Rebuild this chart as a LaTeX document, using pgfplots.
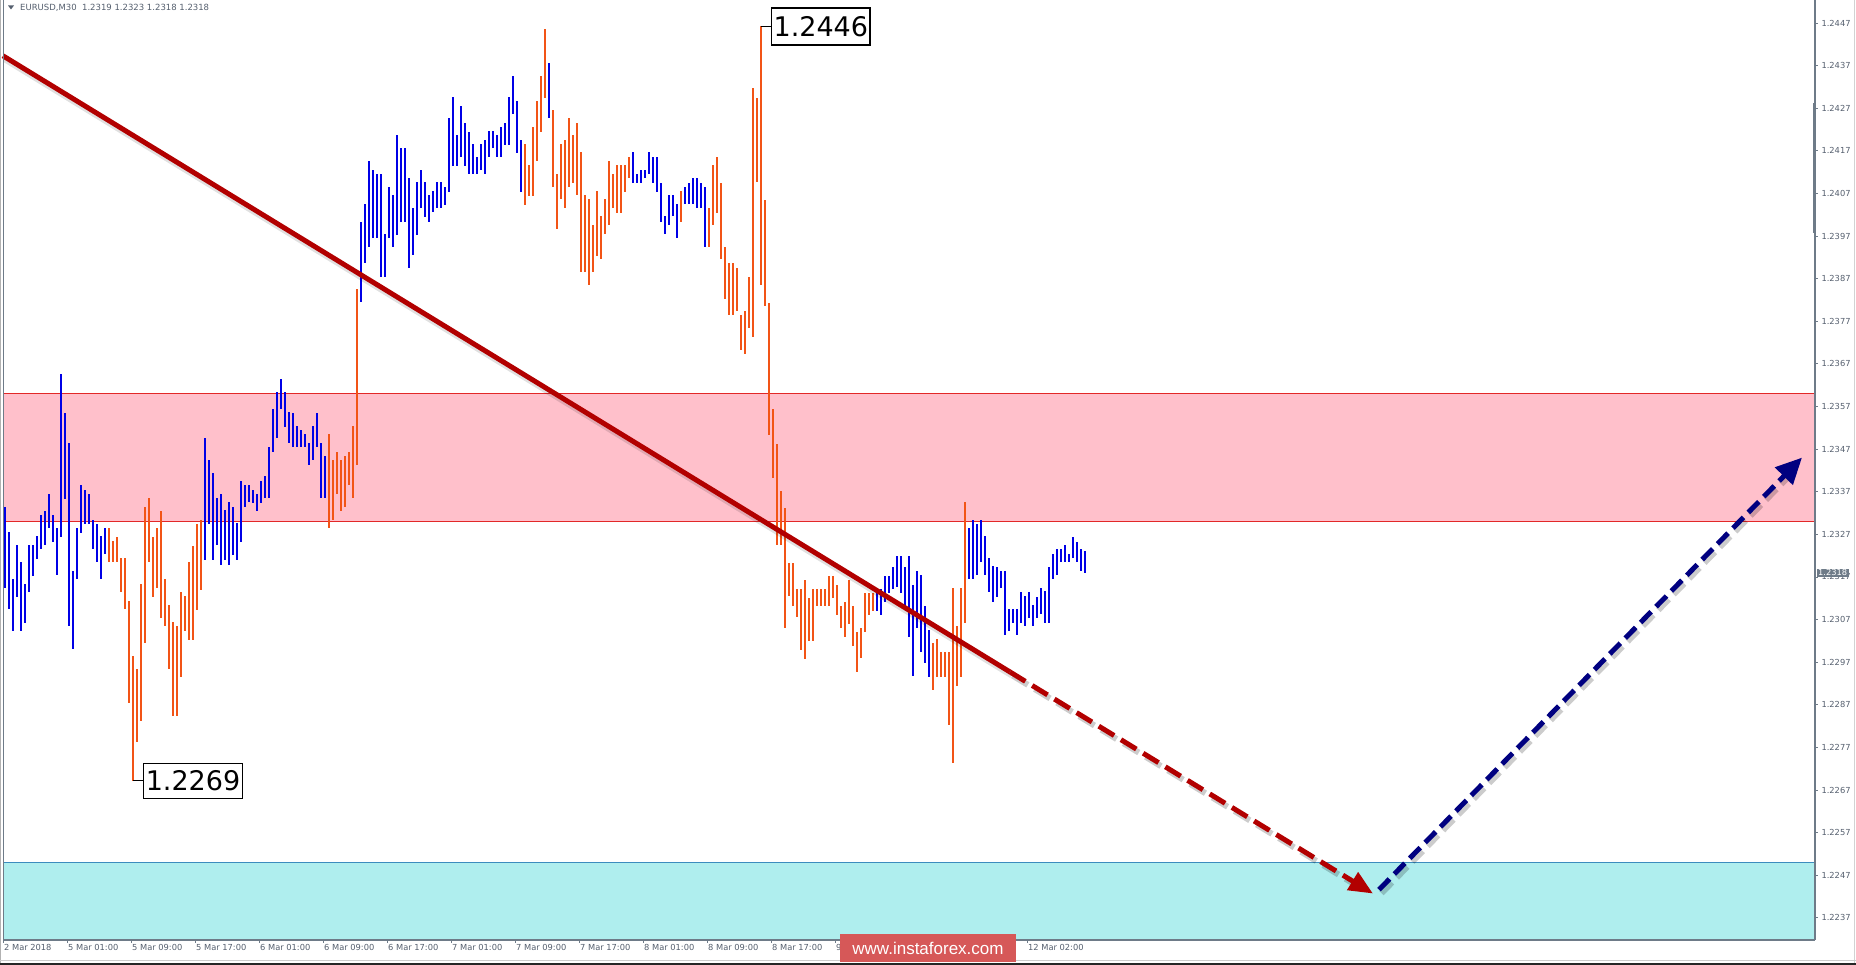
\documentclass[border=0pt]{standalone}
\usepackage{pgfplots}
\pgfplotsset{compat=1.18}
\usepackage{pgfplotstable}
\usepackage{fontspec}
\setmainfont{DejaVu Sans}
\newfontfamily\wmfont{Liberation Sans}
\usetikzlibrary{arrows.meta}

\definecolor{barblue}{RGB}{0,0,230}
\definecolor{barorange}{RGB}{242,84,22}
\definecolor{zonepink}{RGB}{255,192,203}
\definecolor{zonered}{RGB}{226,40,40}
\definecolor{zonecyan}{RGB}{175,238,238}
\definecolor{zoneline}{RGB}{60,140,190}
\definecolor{trendred}{RGB}{178,0,0}
\definecolor{navyarrow}{RGB}{0,0,128}
\definecolor{axisgray}{RGB}{110,123,136}
\definecolor{labelgray}{RGB}{85,95,110}
\definecolor{markred}{RGB}{214,88,88}

% EURUSD M30 bars: index, high, low, up (1 blue / 0 orange)
\pgfplotstableread{
x hi lo up
1 1.23335 1.23144 1
2 1.23275 1.23095 1
3 1.23166 1.23043 1
4 1.23245 1.23124 1
5 1.23206 1.23043 1
6 1.23154 1.23063 1
7 1.23245 1.23134 1
8 1.23245 1.23173 1
9 1.23265 1.23213 1
10 1.23315 1.23235 1
11 1.23325 1.23244 1
12 1.23365 1.23284 1
13 1.23316 1.23253 1
14 1.23285 1.23174 1
15 1.23647 1.23263 1
16 1.23554 1.23354 1
17 1.23484 1.23054 1
18 1.23185 1.23002 1
19 1.23285 1.23165 1
20 1.23385 1.23274 1
21 1.23374 1.23294 1
22 1.23365 1.23294 1
23 1.23303 1.23235 1
24 1.23294 1.23205 1
25 1.23265 1.23165 1
26 1.23285 1.23223 1
27 1.23285 1.23205 0
28 1.23255 1.23205 0
29 1.23264 1.23205 0
30 1.23214 1.23134 0
31 1.23214 1.23095 0
32 1.23114 1.22874 0
33 1.22985 1.22692 0
34 1.22954 1.22782 0
35 1.23154 1.22833 0
36 1.23335 1.23015 0
37 1.23356 1.23205 0
38 1.23264 1.23124 0
39 1.23285 1.23144 0
40 1.23325 1.23074 0
41 1.23165 1.23054 0
42 1.23105 1.22954 0
43 1.23065 1.22844 0
44 1.23055 1.22844 0
45 1.23134 1.22935 0
46 1.23126 1.23043 0
47 1.23206 1.23023 0
48 1.23243 1.23023 0
49 1.23295 1.23093 0
50 1.23304 1.23140 0
51 1.23497 1.23210 1
52 1.23445 1.23295 1
53 1.23414 1.23210 1
54 1.23355 1.23245 1
55 1.23365 1.23199 1
56 1.23326 1.23210 1
57 1.23346 1.23199 1
58 1.23335 1.23222 1
59 1.23296 1.23210 1
60 1.23396 1.23253 1
61 1.23386 1.23334 1
62 1.23386 1.23346 1
63 1.23374 1.23343 1
64 1.23365 1.23324 1
65 1.23396 1.23343 1
66 1.23406 1.23355 1
67 1.23476 1.23355 1
68 1.23564 1.23464 1
69 1.23604 1.23496 1
70 1.23634 1.23564 1
71 1.23604 1.23523 1
72 1.23558 1.23484 1
73 1.23554 1.23475 1
74 1.23525 1.23475 1
75 1.23515 1.23475 1
76 1.23505 1.23475 1
77 1.23485 1.23433 1
78 1.23525 1.23445 1
79 1.23554 1.23476 1
80 1.23484 1.23355 1
81 1.23453 1.23355 1
82 1.23505 1.23285 0
83 1.23445 1.23304 0
84 1.23464 1.23365 0
85 1.23445 1.23324 0
86 1.23454 1.23334 0
87 1.23464 1.23385 0
88 1.23525 1.23355 0
89 1.23846 1.23433 0
90 1.24004 1.23815 1
91 1.24045 1.23906 1
92 1.24147 1.23945 1
93 1.24125 1.23965 1
94 1.24116 1.23965 1
95 1.24115 1.23875 1
96 1.23975 1.23875 1
97 1.24085 1.23965 1
98 1.24067 1.23945 1
99 1.24207 1.23973 1
100 1.24176 1.24004 1
101 1.24176 1.24004 1
102 1.24106 1.23895 1
103 1.24037 1.23926 1
104 1.24098 1.23973 1
105 1.24125 1.24035 1
106 1.24098 1.24014 1
107 1.24067 1.24004 1
108 1.24076 1.24027 1
109 1.24098 1.24035 1
110 1.24098 1.24035 1
111 1.24085 1.24043 1
112 1.24248 1.24074 1
113 1.24297 1.24135 1
114 1.24207 1.24135 1
115 1.24276 1.24155 1
116 1.24235 1.24135 1
117 1.24215 1.24115 1
118 1.24187 1.24115 1
119 1.24156 1.24115 1
120 1.24187 1.24124 1
121 1.24195 1.24115 1
122 1.24217 1.24155 1
123 1.24217 1.24176 1
124 1.24207 1.24155 1
125 1.24226 1.24155 1
126 1.24235 1.24184 1
127 1.24297 1.24184 1
128 1.24346 1.24256 1
129 1.24287 1.24166 1
130 1.24195 1.24074 1
131 1.24186 1.24043 0
132 1.24137 1.24065 0
133 1.24226 1.24065 0
134 1.24287 1.24145 0
135 1.24346 1.24215 0
136 1.24456 1.24295 0
137 1.24376 1.24247 1
138 1.24266 1.24084 0
139 1.24116 1.23987 0
140 1.24186 1.24056 0
141 1.24196 1.24035 0
142 1.24247 1.24085 0
143 1.24207 1.24095 0
144 1.24236 1.24066 0
145 1.24167 1.23885 0
146 1.24066 1.23885 0
147 1.24056 1.23855 0
148 1.23996 1.23885 0
149 1.24076 1.23924 0
150 1.24016 1.23916 0
151 1.24056 1.23974 0
152 1.24147 1.23995 0
153 1.24116 1.24035 0
154 1.24137 1.24025 0
155 1.24137 1.24025 0
156 1.24137 1.24074 0
157 1.24156 1.24106 0
158 1.24167 1.24095 1
159 1.24116 1.24095 1
160 1.24125 1.24095 1
161 1.24125 1.24106 1
162 1.24167 1.24116 1
163 1.24156 1.24095 1
164 1.24156 1.24074 1
165 1.24095 1.24004 1
166 1.24016 1.23974 1
167 1.24066 1.23995 1
168 1.24066 1.24016 1
169 1.24045 1.23965 1
170 1.24076 1.24004 0
171 1.24086 1.24045 1
172 1.24095 1.24045 1
173 1.24106 1.24045 1
174 1.24106 1.24035 1
175 1.24095 1.24035 1
176 1.24085 1.23945 1
177 1.24035 1.23945 0
178 1.24137 1.23995 0
179 1.24156 1.24025 0
180 1.24095 1.23916 0
181 1.23945 1.23823 0
182 1.23906 1.23784 0
183 1.23906 1.23784 0
184 1.23894 1.23795 0
185 1.23785 1.23703 0
186 1.23795 1.23693 0
187 1.23875 1.23754 0
188 1.24318 1.23733 0
189 1.24295 1.24096 0
190 1.24462 1.23854 0
191 1.24055 1.23805 0
192 1.23813 1.23504 0
193 1.23563 1.23402 0
194 1.23482 1.23244 0
195 1.23371 1.23244 0
196 1.23332 1.23051 0
197 1.23203 1.23126 0
198 1.23203 1.23101 0
199 1.23142 1.23077 0
200 1.23142 1.22999 0
201 1.23163 1.22978 0
202 1.23121 1.23020 0
203 1.23142 1.23020 0
204 1.23142 1.23101 0
205 1.23142 1.23101 0
206 1.23142 1.23101 0
207 1.23173 1.23101 0
208 1.23173 1.23121 0
209 1.23152 1.23081 0
210 1.23101 1.23051 0
211 1.23112 1.23030 0
212 1.23163 1.23060 0
213 1.23101 1.23009 0
214 1.23040 1.22948 0
215 1.23051 1.22979 0
216 1.23132 1.23040 0
217 1.23132 1.23081 0
218 1.23132 1.23091 0
219 1.23132 1.23091 1
220 1.23142 1.23081 1
221 1.23173 1.23112 1
222 1.23173 1.23132 1
223 1.23193 1.23142 1
224 1.23220 1.23147 1
225 1.23220 1.23132 1
226 1.23193 1.23101 1
227 1.23220 1.23030 1
228 1.23152 1.22938 1
229 1.23183 1.23051 1
230 1.23175 1.22993 1
231 1.23102 1.22969 1
232 1.23046 1.22935 1
233 1.23015 1.22904 0
234 1.23024 1.22935 0
235 1.22995 1.22935 0
236 1.22995 1.22935 0
237 1.22995 1.22823 0
238 1.23144 1.22733 0
239 1.23055 1.22915 0
240 1.23144 1.22935 0
241 1.23346 1.23063 0
242 1.23285 1.23165 1
243 1.23304 1.23165 1
244 1.23294 1.23175 1
245 1.23304 1.23206 1
246 1.23265 1.23175 1
247 1.23214 1.23134 1
248 1.23195 1.23112 1
249 1.23193 1.23124 1
250 1.23185 1.23144 1
251 1.23185 1.23034 1
252 1.23095 1.23042 1
253 1.23095 1.23063 1
254 1.23095 1.23034 1
255 1.23134 1.23063 1
256 1.23126 1.23054 1
257 1.23134 1.23074 1
258 1.23105 1.23054 1
259 1.23124 1.23074 1
260 1.23145 1.23084 1
261 1.23136 1.23063 1
262 1.23193 1.23063 1
263 1.23224 1.23165 1
264 1.23235 1.23175 1
265 1.23235 1.23206 1
266 1.23245 1.23206 1
267 1.23224 1.23206 1
268 1.23264 1.23214 1
269 1.23253 1.23206 1
270 1.23235 1.23185 1
271 1.23230 1.23180 1
}\bars

\begin{document}
\begin{tikzpicture}
\path[use as bounding box] (0,0) rectangle (1856pt,965pt);
\begin{axis}[
  at={(3pt,25pt)}, anchor=south west,
  scale only axis, width=1812pt, height=940pt,
  xmin=0.575, xmax=453.575, ymin=1.22318, ymax=1.24524,
  clip=false,
  axis line style={draw=none},
  tick align=outside, major tick length=3pt,
  tick style={axisgray, line width=0.8pt},
  ytick pos=right, yticklabel pos=right, xtick pos=bottom,
  ytick={1.2237,1.2247,1.2257,1.2267,1.2277,1.2287,1.2297,1.2307,1.2317,1.2327,1.2337,
         1.2347,1.2357,1.2367,1.2377,1.2387,1.2397,1.2407,1.2417,1.2427,1.2437,1.2447},
  yticklabels={1.2237,1.2247,1.2257,1.2267,1.2277,1.2287,1.2297,1.2307,1.2317,1.2327,1.2337,
         1.2347,1.2357,1.2367,1.2377,1.2387,1.2397,1.2407,1.2417,1.2427,1.2437,1.2447},
  xtick={0.575,16.575,32.575,48.575,64.575,80.575,96.575,112.575,128.575,144.575,
         160.575,176.575,192.575,208.575,224.575,240.575,256.575},
  xticklabels={2 Mar 2018,5 Mar 01:00,5 Mar 09:00,5 Mar 17:00,6 Mar 01:00,6 Mar 09:00,
         6 Mar 17:00,7 Mar 01:00,7 Mar 09:00,7 Mar 17:00,8 Mar 01:00,8 Mar 09:00,
         8 Mar 17:00,9 Mar 01:00,9 Mar 09:00,9 Mar 17:00,12 Mar 02:00},
  /pgf/number format/assume math mode=true,
  yticklabel style={font=\fontsize{8.3}{10}\selectfont, text=labelgray, anchor=west},
  xticklabel style={font=\fontsize{8.3}{10}\selectfont, text=labelgray, anchor=north west, inner sep=1pt},
]
% zones
\fill[zonepink] (axis cs:0.575,1.2330) rectangle (axis cs:453.575,1.2360);
\draw[zonered, line width=1pt] (axis cs:0.575,1.2360) -- (axis cs:453.575,1.2360);
\draw[zonered, line width=1pt] (axis cs:0.575,1.2330) -- (axis cs:453.575,1.2330);
\fill[zonecyan] (axis cs:0.575,1.22318) rectangle (axis cs:453.575,1.2250);
\draw[zoneline, line width=1pt] (axis cs:0.575,1.2250) -- (axis cs:453.575,1.2250);

% bars
\addplot[draw=none, mark=none, forget plot,
  restrict expr to domain={\thisrow{up}}{0.5:1.5},
  error bars/.cd, y dir=both, y explicit, error mark=none,
  error bar style={draw=barblue, line width=2.2pt}]
  table[x=x, y expr={0.5*(\thisrow{hi}+\thisrow{lo})}, y error expr={0.5*(\thisrow{hi}-\thisrow{lo})}] {\bars};
\addplot[draw=none, mark=none, forget plot,
  restrict expr to domain={\thisrow{up}}{-0.5:0.5},
  error bars/.cd, y dir=both, y explicit, error mark=none,
  error bar style={draw=barorange, line width=2.2pt}]
  table[x=x, y expr={0.5*(\thisrow{hi}+\thisrow{lo})}, y error expr={0.5*(\thisrow{hi}-\thisrow{lo})}] {\bars};

% axis lines and scroll marker
\draw[axisgray, line width=1.2pt] (rel axis cs:1,0) -- (rel axis cs:1,1);
\draw[axisgray, line width=1.2pt] (rel axis cs:0,0) -- (rel axis cs:1,0);
\draw[axisgray, line width=3pt] (axis cs:453.575,1.24282) -- (axis cs:453.575,1.23977);

% trend line and forecast arrows
\draw[black, opacity=0.12, line width=7pt, shift={(2pt,-3pt)}] (axis cs:0.575,1.24393) -- (axis cs:252.325,1.22947);
\draw[black, opacity=0.2, line width=6pt, shift={(2.5pt,-3.5pt)}, dash pattern=on 18pt off 8pt] (axis cs:252.325,1.22947) -- (axis cs:338,1.22456);
\draw[black, opacity=0.2, line width=6pt, shift={(2.5pt,-3.5pt)}, dash pattern=on 15pt off 7pt] (axis cs:344.575,1.22436) -- (axis cs:446,1.23410);
\draw[trendred, line width=5pt] (axis cs:0.575,1.24393) -- (axis cs:252.325,1.22947);
\draw[trendred, line width=5pt, dash pattern=on 18pt off 8pt, -{Triangle[length=24pt,width=20pt]}]
  (axis cs:252.325,1.22947) -- (axis cs:343.075,1.22427);
\draw[navyarrow, line width=5pt, dash pattern=on 15pt off 7pt, -{Triangle[length=26pt,width=24pt]}]
  (axis cs:344.575,1.22436) -- (axis cs:450.325,1.23450);

% extreme labels
\draw[black, line width=0.8pt] (axis cs:190,1.24462) -- (axis cs:192.575,1.24462);
\node[draw=black, line width=1.2pt, fill=white, anchor=west, inner xsep=2pt, inner ysep=0pt,
  minimum height=37pt, font=\fontsize{27}{30}\selectfont] at (axis cs:192.575,1.24462) {1.2446};
\draw[black, line width=0.8pt] (axis cs:33,1.22692) -- (axis cs:35.625,1.22692);
\node[draw=black, line width=1.2pt, fill=white, anchor=west, inner xsep=2pt, inner ysep=0pt,
  minimum height=35pt, font=\fontsize{27}{30}\selectfont] at (axis cs:35.625,1.22692) {1.2269};

% current price
\node[fill=axisgray, text=white, anchor=west, inner xsep=1.5pt, inner ysep=1pt, xshift=1.5pt,
  font=\fontsize{8.3}{10}\selectfont] at (axis cs:453.575,1.2318) {1.2318};
\end{axis}

% window frame and header
\draw[gray!60, line width=1pt] (0.8pt,2pt) -- (0.8pt,965pt);
\draw[axisgray, line width=1pt] (3.3pt,25pt) -- (3.3pt,965pt);
\draw[gray!35, line width=1pt] (1854.5pt,2pt) -- (1854.5pt,965pt);
\draw[gray!40, line width=0.8pt] (0,5pt) -- (1856pt,5pt);
\draw[black!85, line width=2pt] (0,1pt) -- (1856pt,1pt);
\fill[labelgray] (8pt,959.5pt) -- (14pt,959.5pt) -- (11pt,955.5pt) -- cycle;
\node[anchor=west, text=labelgray, inner sep=0pt, font=\fontsize{8.5}{10}\selectfont]
  at (20pt,957.5pt) {EURUSD,M30\ \ 1.2319 1.2323 1.2318 1.2318};

% watermark
\fill[markred] (840pt,3pt) rectangle (1016pt,31pt);
\node[text=white, inner sep=0pt, font=\wmfont\fontsize{17}{20}\selectfont] at (928pt,17pt) {www.instaforex.com};
\end{tikzpicture}
\end{document}
